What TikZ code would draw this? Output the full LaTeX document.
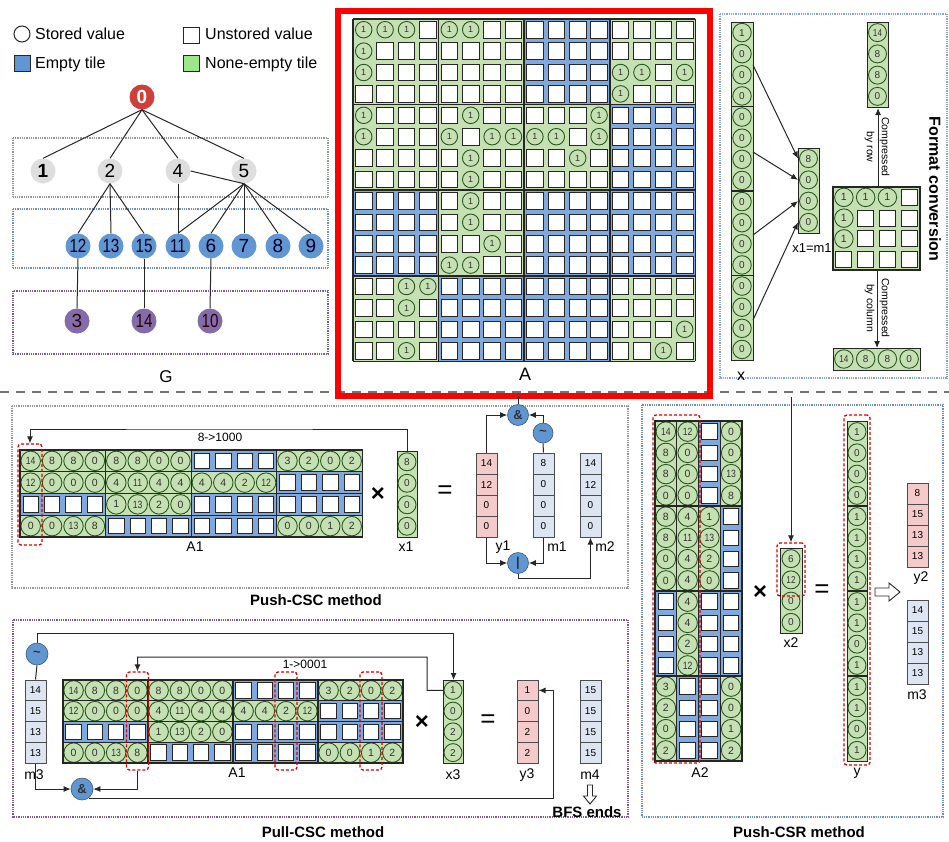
\documentclass[tikz,border=0pt]{standalone}
\usepackage{fontspec}
\setmainfont{Liberation Sans}
\usepackage{graphicx}
\usetikzlibrary{arrows.meta,calc}
\definecolor{tgreen}{RGB}{197,224,178}
\definecolor{dgreen}{RGB}{45,85,35}
\definecolor{tblue}{RGB}{128,168,220}
\definecolor{nred}{RGB}{208,62,58}
\definecolor{ngray}{RGB}{222,222,222}
\definecolor{nblue}{RGB}{96,150,210}
\definecolor{npurple}{RGB}{132,108,168}
\definecolor{vpink}{RGB}{245,202,202}
\definecolor{vblue}{RGB}{221,229,242}
\definecolor{lgray}{RGB}{150,150,150}
\definecolor{lblue}{RGB}{110,140,190}
\definecolor{lpurple}{RGB}{120,90,150}
\newcommand\fs[1]{\fontsize{#1}{#1}\selectfont}
\def\dashstr{-}
\newcommand\numtxt[1]{\ifnum#1>9 \scalebox{0.82}[1]{#1}\else#1\fi}
\tikzset{
  ecell/.style={rectangle,draw=black!85,fill=white,line width=0.9,inner sep=0},
  scell/.style={circle,draw=dgreen,fill=tgreen,line width=0.9,inner sep=0,text=black!80,font=\fs{10}},
  pcell/.style={rectangle,draw=black!70,line width=1,inner sep=0,font=\fs{10}},
  gbox/.style={rectangle,draw=black!85,fill=tgreen,line width=1.1,inner sep=0},
  tnode/.style={circle,inner sep=0,minimum size=25,font=\fs{19}},
  opnode/.style={circle,fill=nblue,draw=nblue!60!black,line width=0.6,inner sep=0,minimum size=21,font=\fs{13}\bfseries,text=black!80},
  lvl/.style={line width=1.1,dash pattern=on 1pt off 0.8pt},
  conn/.style={line width=1,draw=black!85},
  arr/.style={conn,-{Latex[length=7pt,width=6pt]}},
  redsel/.style={rectangle,draw=red!85!black,dash pattern=on 3pt off 2pt,line width=1.3,rounded corners=3pt,inner sep=0},
  lab/.style={font=\fs{14},inner sep=0},
  ttl/.style={font=\fs{15}\bfseries,inner sep=0},
  bigsym/.style={font=\fs{24}\bfseries,inner sep=0},
}
% matrix of cells: x0,y0,cw,ch,rows,circle diam,square size
\newcommand\mcells[7]{%
  \foreach \rw [count=\ri from 0] in #5 {%
    \foreach \v [count=\ci from 0] in \rw {%
      \edef\tmpv{\v}%
      \ifx\tmpv\dashstr
        \node[ecell,minimum size=#7] at ({#1+(\ci+0.5)*#3},{#2+(\ri+0.5)*#4}) {};
      \else
        \node[scell,minimum size=#6] at ({#1+(\ci+0.5)*#3},{#2+(\ri+0.5)*#4}) {\numtxt{\v}};
      \fi
    }%
  }%
}
% green vector: name,x0,y0,w,ch,n,list,diam
\newcommand\gvec[8]{%
  \node[gbox,anchor=north west,minimum width=#4,minimum height={#6*#5}] (#1) at (#2,#3) {};
  \foreach \v [count=\ci from 0] in {#7} {%
    \node[scell,minimum size=#8] (#1c\ci) at ({#2+#4/2},{#3+(\ci+0.5)*#5}) {\numtxt{\v}};
  }%
}
% value vector: name,x0,y0,w,ch,color,list
\newcommand\pvec[7]{%
  \foreach \v [count=\ci from 0] in {#7} {%
    \node[pcell,fill=#6,minimum width=#4,minimum height=#5] (#1c\ci) at ({#2+#4/2},{#3+(\ci+0.5)*#5}) {\v};
  }%
}
\def\Arows{{1,1,1,-,1,1,-,-,-,-,-,-,-,-,-,-},%
{1,-,-,-,-,-,-,-,-,-,-,-,-,-,-,-},%
{1,-,-,-,-,-,-,-,-,-,-,-,1,1,-,1},%
{-,-,-,-,-,-,-,-,-,-,-,-,1,-,-,-},%
{1,-,-,-,-,1,-,-,-,-,-,1,-,-,-,-},%
{1,-,-,-,1,-,1,1,1,1,-,1,-,-,-,-},%
{-,-,-,-,-,1,-,-,-,-,1,-,-,-,-,-},%
{-,-,-,-,-,1,-,-,-,-,-,-,-,-,-,-},%
{-,-,-,-,-,1,-,-,-,-,-,-,-,-,-,-},%
{-,-,-,-,-,1,-,-,-,-,-,-,-,-,-,-},%
{-,-,-,-,-,-,1,-,-,-,-,-,-,-,-,-},%
{-,-,-,-,1,1,-,-,-,-,-,-,-,-,-,-},%
{-,-,1,1,-,-,-,-,-,-,-,-,-,-,-,-},%
{-,-,1,-,-,-,-,-,-,-,-,-,-,-,-,-},%
{-,-,-,-,-,-,-,-,-,-,-,-,-,-,-,1},%
{-,-,1,-,-,-,-,-,-,-,-,-,-,-,1,-}}
\def\AoneRows{{14,8,8,0,8,8,0,0,-,-,-,-,3,2,0,2},%
{12,0,0,0,4,11,4,4,4,4,2,12,-,-,-,-},%
{-,-,-,-,1,13,2,0,-,-,-,-,-,-,-,-},%
{0,0,13,8,-,-,-,-,-,-,-,-,0,0,1,2}}
\def\AtwoRows{{14,12,-,0},{8,0,-,0},{8,0,-,13},{0,0,-,8},%
{8,4,1,-},{8,11,13,-},{0,4,2,-},{0,4,0,-},%
{-,4,-,-},{-,4,-,-},{-,2,-,-},{-,12,-,-},%
{3,-,-,0},{2,-,-,0},{0,-,-,1},{2,-,-,2}}
\def\FCrows{{1,1,1,-},{1,-,-,-},{1,-,-,-},{-,-,-,-}}
\def\tilelist{0/0/tgreen,0/1/tgreen,0/2/tblue,0/3/tgreen,1/0/tgreen,1/1/tgreen,1/2/tgreen,1/3/tblue,2/0/tblue,2/1/tgreen,2/2/tblue,2/3/tblue,3/0/tgreen,3/1/tblue,3/2/tblue,3/3/tgreen}
\newcommand\drawAone[4]{%
  \foreach \tr/\tg/\tcol in \tilelist
    {\fill[\tcol] ({#1+\tg*4*#3},{#2+\tr*#4}) rectangle ++({4*#3},#4);}
  \begin{scope}[scell/.append style={font=\fs{10.5}}]
  \mcells{#1}{#2}{#3}{#4}{\AoneRows}{19.5}{15.5}
  \end{scope}
  \foreach \tr in {0,...,3} \foreach \tg in {0,...,3}
    {\draw[line width=1.3,black!85] ({#1+\tg*4*#3},{#2+\tr*#4}) rectangle ++({4*#3},#4);}
}
\begin{document}
\begin{tikzpicture}[x=1pt,y=-1pt]
\useasboundingbox (0,0) rectangle (949,841);
\fill[white] (0,0) rectangle (949,841);

% ---------- legend ----------
\node[circle,draw=black!85,line width=1,minimum size=16,inner sep=0] (lgs) at (22,34) {};
\node[lab,font=\fs{16},anchor=base west] (lgst) at (35,39) {Stored value};
\node[rectangle,draw=black!85,line width=1,minimum size=16,inner sep=0] (lgu) at (191,35) {};
\node[lab,font=\fs{16},anchor=base west] (lgut) at (205,39) {Unstored value};
\node[rectangle,draw=black!85,fill=nblue,line width=1,minimum size=16,inner sep=0] (lge) at (22,63) {};
\node[lab,font=\fs{16},anchor=base west] (lget) at (35,68) {Empty tile};
\node[rectangle,draw=black!85,fill=tgreen!80!green,line width=1,minimum size=16,inner sep=0] (lgn) at (191,63) {};
\node[lab,font=\fs{16},anchor=base west] (lgnt) at (205,68) {None-empty tile};

% ---------- tree ----------
\draw[lvl,draw=lgray] (13,138) rectangle (328,197);
\draw[lvl,draw=lblue] (13,209) rectangle (328,268);
\draw[lvl,draw=lpurple] (13,291) rectangle (328,354);
\node[tnode,fill=nred,text=white,font=\fs{19}\bfseries] (n0) at (142,97) {0};
\node[tnode,fill=ngray] (n1) at (43,171) {\textbf{1}};
\node[tnode,fill=ngray] (n2) at (110,171) {2};
\node[tnode,fill=ngray] (n4) at (178,171) {4};
\node[tnode,fill=ngray] (n5) at (244,171) {5};
\foreach \nm/\xx in {12/78,13/111,15/144,11/178} {
  \node[tnode,fill=nblue,text=black!85!blue] (n\nm) at (\xx,246) {\scalebox{0.8}[1]{\nm}};
}
\foreach \nm/\xx in {6/211,7/244,8/278,9/311} {
  \node[tnode,fill=nblue,text=black!85!blue] (n\nm) at (\xx,246) {\nm};
}
\node[tnode,fill=npurple,text=black!80!purple] (n3) at (77,321) {3};
\node[tnode,fill=npurple,text=black!80!purple] (n14) at (144,321) {\scalebox{0.8}[1]{14}};
\node[tnode,fill=npurple,text=black!80!purple] (n10) at (210,321) {\scalebox{0.8}[1]{10}};
\foreach \t in {1,2,4,5} \draw[conn] (n0.south) -- (n\t.north);
\foreach \t in {12,13,15} \draw[conn] (n2.south) -- (n\t.north);
\foreach \t in {11,6,7,8,9} \draw[conn] (n5.south) -- (n\t.north);
\draw[conn] (n4.east) -- (n5.south);
\draw[conn] (n4.south) -- (n11.north);
\draw[conn] (n12.south) -- (n3.north);
\draw[conn] (n15.south) -- (n14.north);
\draw[conn] (n6.south) -- (n10.north);
\node[lab,font=\fs{17}] (gl) at (166,377) {G};

% ---------- matrix A ----------
\foreach \tr/\tc/\tcol in \tilelist
  {\fill[\tcol] ({353+\tc*85.6},{19+\tr*85.6}) rectangle ++(85.6,85.6);}
\begin{scope}[scell/.append style={font=\fs{9}}]
\mcells{353}{19}{21.4}{21.4}{\Arows}{16.5}{16.5}
\end{scope}
\foreach \k in {0,...,4} {
  \draw[line width=1.6,black!85] ({353+\k*85.6},19) -- ++(0,342.4);
  \draw[line width=1.6,black!85] (353,{19+\k*85.6}) -- ++(342.4,0);
}
\node[lab,font=\fs{18}] (al) at (525,374) {A};

% ---------- format conversion ----------
\draw[lvl,draw=lblue!80] (720,14) rectangle (947,378);
\gvec{xv}{731}{22}{22}{21.125}{16}{1,0,0,0,0,0,0,0,0,0,0,0,0,0,0,0}{18.5}
\foreach \k in {1,2,3} \draw[line width=1.1,black!85] (731,{22+\k*84.5}) -- ++(22,0);
\node[lab,font=\fs{16}] (xl) at (741,376) {x};
\gvec{xo}{798}{148}{21}{21.25}{4}{8,0,0,0}{18}
\node[lab,font=\fs{13}] (xol) at (812,248) {x1=m1};
\coordinate (xa1) at (753,65);
\coordinate (xa2) at (753,152);
\coordinate (xa3) at (753,235);
\coordinate (xa4) at (753,320);
\draw[arr] (xa1) -- (xo.west |- xoc0);
\draw[arr] (xa2) -- (xo.west |- xoc1);
\draw[arr] (xa3) -- (xo.west |- xoc2);
\draw[arr] (xa4) -- (xo.west |- xoc3);
\node[gbox,anchor=north west,minimum width=87,minimum height=83] (fct) at (833,187) {};
\begin{scope}[scell/.append style={font=\fs{10.5}}]
\mcells{833}{187}{21.75}{20.75}{\FCrows}{18.5}{16}
\end{scope}
\draw[line width=1.1,black!85] (833,187) rectangle ++(87,83);
\gvec{fcr}{867}{22}{21}{21.25}{4}{14,8,8,0}{18}
\node[gbox,anchor=north west,minimum width=87,minimum height=22] (fcc) at (833,348) {};
\foreach \v [count=\i from 0] in {14,8,8,0}
  \node[scell,minimum size=18.5] (fccc\i) at ({833+(\i+0.5)*21.75},359) {\numtxt{\v}};
\draw[arr] (fct.north -| fcr.south) -- (fcr.south);
\draw[arr] (fct.south) -- (fcc.north);
\node[rotate=-90,align=center,font=\fontsize{10.5}{15}\selectfont,inner sep=0] (cr) at (877,147) {Compressed\\by row};
\node[rotate=-90,align=center,font=\fontsize{10.5}{15}\selectfont,inner sep=0] (cc) at (877,308) {Compressed\\by column};
\node[rotate=-90,font=\fs{16}\bfseries,inner sep=0] (fcl) at (935,189) {Format conversion};

% ---------- separator & red frame ----------
\draw[line width=2,black!55,dash pattern=on 9pt off 7pt] (0,392) -- (949,392);
\draw[line width=5.5,red] (338,11) rectangle (710,396);
\coordinate (abot) at (518,396);
\coordinate (atop2) at (791,397);

% ---------- Push-CSC ----------
\draw[lvl,draw=lgray] (12,406) rectangle (628,588);
\drawAone{20}{450}{21.4}{21.75}
\node[redsel,minimum width=24,minimum height=101] (csc1) at (30,494.5) {};
\node[lab] (a1l) at (195,547) {A1};
\node[bigsym] (tim1) at (378,494) {×};
\gvec{xa}{397}{451}{20}{21.5}{4}{8,0,0,0}{18}
\node[lab] (xal) at (406,547) {x1};
\node[bigsym,font=\fs{26}] (eq1) at (445,492) {=};
\pvec{ya}{476}{453}{21}{21}{vpink}{14,12,0,0}
\pvec{ma}{533}{453}{21}{21}{vblue}{8,0,0,0}
\pvec{mb}{580}{453}{21}{21}{vblue}{14,12,0,0}
\node[lab] (yal) at (503,547) {y1};
\node[lab] (mal) at (557,547) {m1};
\node[lab] (mbl) at (605,547) {m2};
\node[opnode] (and1) at (518,415) {\&};
\node[opnode,minimum size=20] (neg1) at (543,433) {\textasciitilde};
\node[opnode] (or1) at (518,563) {|};
\draw[arr] (xa.north) |- (220,429) -| (csc1.north);
\node[font=\fs{12},inner sep=0] (l81) at (220,437) {8->1000};
\draw[arr] (yac0.north) |- (and1.west);
\draw[conn] (mac0.north) -- (neg1.south);
\draw[arr] (neg1.north) |- (and1.east);
\draw[conn] (and1.north) -- (abot);
\draw[arr] (yac3.south) |- (or1.west);
\draw[arr] (mac3.south) |- (or1.east);
\draw[arr] (or1.south) -- ++(0,5) -| (mbc3.south);
\node[ttl] (t1) at (316,600) {Push-CSC method};

% ---------- Pull-CSC ----------
\draw[lvl,draw=lpurple] (13,620) rectangle (628,817);
\pvec{mc}{25}{680}{21}{20.75}{vblue}{14,15,13,13}
\node[lab] (mcl) at (34,775) {m3};
\node[opnode,minimum size=22] (neg2) at (37,654) {\textasciitilde};
\drawAone{63}{680}{21.25}{20.75}
\node[redsel,minimum width=22,minimum height=98] (pc3) at (137.5,721) {};
\node[redsel,minimum width=22,minimum height=98] (pc10) at (286,721) {};
\node[redsel,minimum width=22,minimum height=98] (pc14) at (371,721) {};
\node[lab] (a1l2) at (237,773) {A1};
\node[font=\fs{12},inner sep=0] (l10) at (305,664) {1->0001};
\node[bigsym] (tim2) at (422,722) {×};
\gvec{xc}{443}{680}{20}{20.75}{4}{1,0,2,2}{18}
\node[lab] (xcl) at (453,775) {x3};
\node[bigsym,font=\fs{26}] (eq2) at (488,721) {=};
\pvec{yc}{517}{680}{21}{20.75}{vpink}{1,0,2,2}
\pvec{md}{580}{680}{21}{20.75}{vblue}{15,15,15,15}
\node[lab] (ycl) at (527,775) {y3};
\node[lab] (mdl) at (590,775) {m4};
\node[opnode,minimum size=22] (and2) at (82,789) {\&};
\draw[conn] (mcc0.north) -- (neg2.south);
\draw[arr] (neg2.north) -- ++(0,-9) -| (xc.north);
\draw[arr] (xc.west |- xcc0) -- (427,690.4) |- (282,657) -| (pc3.north);
\draw[arr] (mcc3.south) |- (and2.west);
\draw[arr] (pc3.south) |- (and2.east);
\draw[arr] (and2.-50) |- (553,798) |- (ycc0.east);
\draw[line width=0.9,black!85] (587.5,785) -- (592.5,785) -- (592.5,796) -- (596.5,796) -- (590,804) -- (583.5,796) -- (587.5,796) -- cycle;
\node[ttl] (bfs) at (587,812) {BFS ends};
\node[ttl] (t2) at (323,832) {Pull-CSC method};

% ---------- Push-CSR ----------
\draw[lvl,draw=lblue] (642,405) rectangle (943,817);
\foreach \tc/\tg/\tcol in \tilelist
  {\fill[\tcol] ({655+\tc*21.75},{421+\tg*85}) rectangle ++(21.75,85);}
\begin{scope}[scell/.append style={font=\fs{10.5}}]
\mcells{655}{421}{21.75}{21.25}{\AtwoRows}{19.5}{15.5}
\end{scope}
\foreach \tc in {0,...,3} \foreach \tg in {0,...,3}
  {\draw[line width=1.3,black!85] ({655+\tc*21.75},{421+\tg*85}) rectangle ++(21.75,85);}
\node[redsel,minimum width=47,minimum height=348] (a2sel) at (676.5,589) {};
\node[lab] (a2l) at (700,773) {A2};
\node[bigsym] (tim3) at (760,592) {×};
\gvec{xd}{780}{548}{22}{21.25}{4}{6,12,0,0}{18}
\node[redsel,minimum width=28,minimum height=53] (x2sel) at (791,569.5) {};
\node[lab] (xdl) at (791,643) {x2};
\draw[arr] (atop2) -- (x2sel.north);
\node[bigsym,font=\fs{26}] (eq3) at (822,591) {=};
\gvec{yv}{847}{421}{20}{21.25}{16}{1,0,0,0,1,1,1,1,1,1,0,1,1,1,0,1}{18}
\foreach \k in {1,2,3} \draw[line width=1.1,black!85] (847,{421+\k*85}) -- ++(20,0);
\node[redsel,minimum width=26,minimum height=350] (ysel) at (857,590) {};
\node[lab] (yvl) at (857,773) {y};
\draw[line width=0.9,black!85] (875,588) -- (889,588) -- (889,583) -- (900,592) -- (889,601) -- (889,596) -- (875,596) -- cycle;
\pvec{ye}{907}{483}{21}{21}{vpink}{8,15,13,13}
\pvec{me}{907}{600}{21}{21}{vblue}{14,15,13,13}
\node[lab] (yel) at (921,578) {y2};
\node[lab] (mel) at (917,695) {m3};
\node[ttl] (t3) at (799,832) {Push-CSR method};
\end{tikzpicture}
\end{document}
